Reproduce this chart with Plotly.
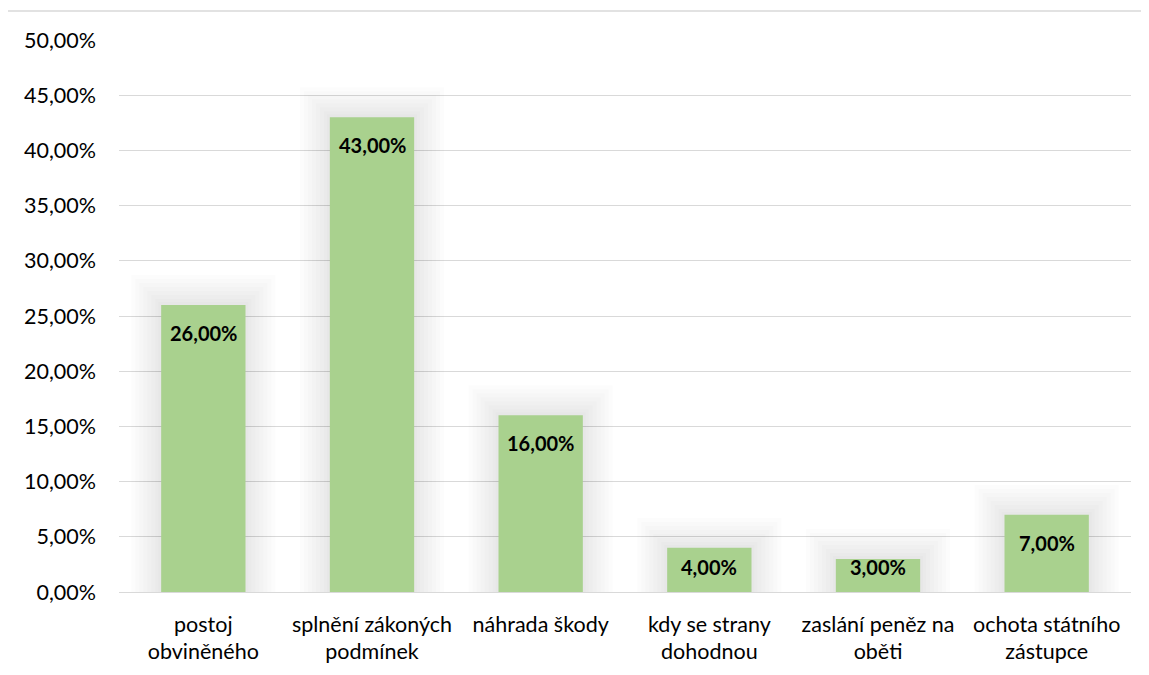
import plotly.graph_objects as go

categories = [
    "postoj<br>obviněného",
    "splnění zákoných<br>podmínek",
    "náhrada škody",
    "kdy se strany<br>dohodnou",
    "zaslání peněz na<br>oběti",
    "ochota státního<br>zástupce",
]
values = [26, 43, 16, 4, 3, 7]
tick_vals = [0, 5, 10, 15, 20, 25, 30, 35, 40, 45, 50]
tick_text = ["0,00%", "5,00%", "10,00%", "15,00%", "20,00%", "25,00%",
             "30,00%", "35,00%", "40,00%", "45,00%", "50,00%"]

FONT = "Lato"
BAR = "#A9D18E"
GRID = "#D9D9D9"

fig = go.Figure()

# soft shadow round the bars (Excel style), drawn as wide translucent outlines
for w in (60, 52, 44, 36, 28, 20, 12, 6):
    fig.add_trace(go.Bar(
        x=categories, y=values,
        marker=dict(color="rgba(0,0,0,0)",
                    line=dict(color="rgba(0,0,0,0.011)", width=w)),
        showlegend=False, hoverinfo="skip"))

fig.add_trace(go.Bar(
    x=categories, y=values,
    marker=dict(color=BAR, line_width=0),
    showlegend=False, hoverinfo="skip"))

# value labels just inside the top of each bar
annotations = []
for c, v in zip(categories, values):
    annotations.append(dict(
        x=c, y=max(v - 2.54, 2.26), xref="x", yref="y",
        text=f"<b>{v:.2f}%</b>".replace(".", ","), showarrow=False,
        yanchor="middle", xanchor="center",
        font=dict(family=FONT, size=20, color="#000000")))

fig.update_layout(
    width=1149, height=675,
    paper_bgcolor="white", plot_bgcolor="white",
    margin=dict(l=111, r=26, t=32, b=91),
    barmode="overlay", bargap=0.5,
    font=dict(family=FONT, size=21.5, color="#000000"),
    xaxis=dict(showgrid=False, showline=False, ticks="",
               tickfont=dict(size=21.5, color="#000000"),
               ticklabelstandoff=17),
    yaxis=dict(range=[0, 50], tickvals=tick_vals, ticktext=tick_text,
               showgrid=True, gridcolor=GRID, gridwidth=1.3,
               zeroline=True, zerolinecolor=GRID, zerolinewidth=1.3,
               showline=False, ticks="", ticklabelstandoff=22,
               tickfont=dict(size=21.5, color="#000000")),
    annotations=annotations,
    shapes=[
        dict(type="line", xref="paper", yref="paper",
             x0=-0.1107, x1=-0.1107, y0=-0.2, y1=1.0525,
             line=dict(color=GRID, width=1.3)),
        dict(type="line", xref="paper", yref="paper",
             x0=-0.1107, x1=1.1, y0=1.0525, y1=1.0525,
             line=dict(color=GRID, width=1.3)),
    ],
)

fig.write_html("out.html")
